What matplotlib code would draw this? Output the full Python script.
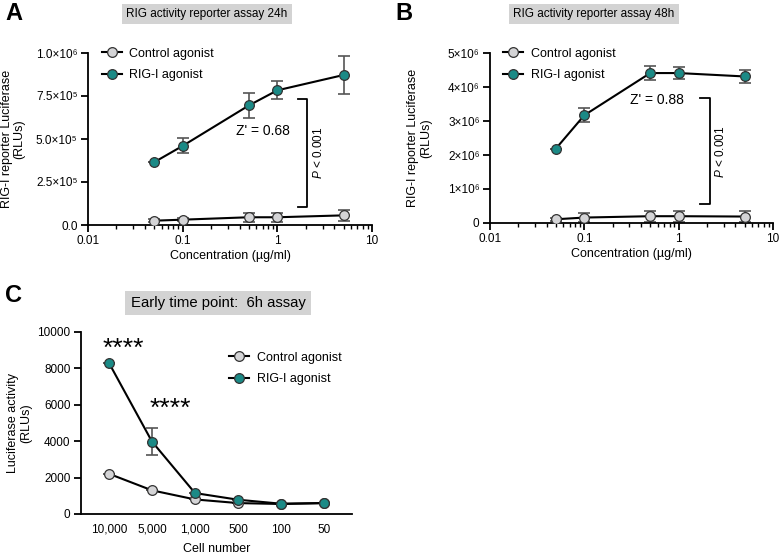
import matplotlib
matplotlib.use("Agg")
import matplotlib.pyplot as plt
import numpy as np

plt.rcParams['font.family'] = ['Liberation Sans', 'DejaVu Sans']
plt.rcParams['mathtext.fontset'] = 'custom'
plt.rcParams['mathtext.rm'] = 'Liberation Sans'
plt.rcParams['mathtext.it'] = 'Liberation Sans:italic'
plt.rcParams['axes.linewidth'] = 1.3

# ---------------- data ----------------
conc = [0.05, 0.1, 0.5, 1, 5]

a_ctrl = [2.5e4, 3.1e4, 4.5e4, 4.5e4, 5.6e4]
a_ctrl_err = [0.8e4, 0.9e4, 2.7e4, 2.7e4, 3.1e4]
a_rig = [3.65e5, 4.6e5, 6.95e5, 7.83e5, 8.72e5]
a_rig_err = [0.0, 4.3e4, 7.2e4, 5.3e4, 1.08e5]
a_yticks = [0, 2.5e5, 5.0e5, 7.5e5, 1.0e6]
a_yticklabels = ["0.0", "2.5×10⁵", "5.0×10⁵", "7.5×10⁵", "1.0×10⁶"]

b_ctrl = [1.1e5, 1.6e5, 2.0e5, 2.0e5, 1.9e5]
b_ctrl_err = [0.4e5, 1.3e5, 1.6e5, 1.6e5, 1.6e5]
b_rig = [2.19e6, 3.17e6, 4.41e6, 4.41e6, 4.31e6]
b_rig_err = [0.0, 0.21e6, 0.2e6, 0.17e6, 0.2e6]
b_yticks = [0, 1e6, 2e6, 3e6, 4e6, 5e6]
b_yticklabels = ["0", "1×10⁶", "2×10⁶", "3×10⁶", "4×10⁶", "5×10⁶"]

x_ticks = [0.01, 0.1, 1, 10]
x_ticklabels = ["0.01", "0.1", "1", "10"]

cells = ["10,000", "5,000", "1,000", "500", "100", "50"]
c_ctrl = [2210, 1300, 800, 600, 550, 600]
c_ctrl_err = [0, 0, 0, 0, 0, 0]
c_rig = [8300, 3980, 1150, 785, 565, 600]
c_rig_err = [0, 720, 0, 0, 0, 0]
c_yticks = [0, 2000, 4000, 6000, 8000, 10000]

TEAL = "#1b8a86"
LGRAY = "#d4d4d6"
ERRC = "#555555"
TICK_FS = 8.5
LAB_FS = 9
LEG_FS = 9

W, H = 782, 554
fig = plt.figure(figsize=(W / 100, H / 100), dpi=100)


def px_axes(l, t, r, b):
    return fig.add_axes([l / W, 1 - b / H, (r - l) / W, (b - t) / H])


def style(ax):
    for s in ("top", "right"):
        ax.spines[s].set_visible(False)
    ax.tick_params(axis="both", which="major", length=5, width=1.3, labelsize=TICK_FS, direction="out", pad=2.5)
    ax.tick_params(axis="both", which="minor", length=3, width=1.0)


def plot_series(ax, x, y, err, face, label):
    ax.errorbar(x, y, yerr=err, fmt="none", ecolor=ERRC, elinewidth=1.2, capsize=4, capthick=1.2, zorder=2)
    ax.plot(x, y, "-", color="black", lw=1.5, marker="o", ms=7, mfc=face, mec="#333333", mew=0.9,
            label=label, zorder=3)


def title_box(x, y, text, size):
    fig.text(x / W, 1 - y / H, text, ha="center", va="center", fontsize=size,
             bbox=dict(boxstyle="square,pad=0.35", fc="#d3d3d3", ec="none"))


def legend(ax, anchor):
    ax.legend(loc="upper left", bbox_to_anchor=anchor, frameon=False, fontsize=LEG_FS,
              handlelength=1.6, handletextpad=0.6, labelspacing=0.75, borderaxespad=0)


# ---------------- Panel A ----------------
axA = px_axes(88, 53, 372, 225)
plot_series(axA, conc, a_ctrl, a_ctrl_err, LGRAY, "Control agonist")
plot_series(axA, conc, a_rig, a_rig_err, TEAL, "RIG-I agonist")
axA.set_xscale("log")
axA.set_xlim(0.01, 10)
axA.set_ylim(0, 1.0e6)
axA.set_xticks(x_ticks)
axA.set_xticklabels(x_ticklabels)
axA.set_yticks(a_yticks)
axA.set_yticklabels(a_yticklabels)
style(axA)
axA.set_xlabel("Concentration (µg/ml)", fontsize=LAB_FS, labelpad=2)
axA.set_ylabel("RIG-I reporter Luciferase\n(RLUs)", fontsize=LAB_FS, linespacing=1.1)
axA.yaxis.set_label_coords(-0.22, 0.5)
axA.plot([1.65, 2.06, 2.06, 1.65], [0.734e6, 0.734e6, 0.107e6, 0.107e6], color="black", lw=1.3)
axA.text(2.75, 0.42e6, "$\\mathit{P}$ < 0.001", rotation=90, ha="center", va="center", fontsize=8.5)
axA.text(0.71, 0.544e6, "Z' = 0.68", ha="center", va="center", fontsize=10)
legend(axA, (0.03, 1.06))
title_box(207, 14, "RIG activity reporter assay 24h", 8.5)
fig.text(5 / W, 1 - 14 / H, "A", fontsize=17, fontweight="bold", ha="left", va="center")

# ---------------- Panel B ----------------
axB = px_axes(490, 53, 773, 223)
plot_series(axB, conc, b_ctrl, b_ctrl_err, LGRAY, "Control agonist")
plot_series(axB, conc, b_rig, b_rig_err, TEAL, "RIG-I agonist")
axB.set_xscale("log")
axB.set_xlim(0.01, 10)
axB.set_ylim(0, 5e6)
axB.set_xticks(x_ticks)
axB.set_xticklabels(x_ticklabels)
axB.set_yticks(b_yticks)
axB.set_yticklabels(b_yticklabels)
style(axB)
axB.set_xlabel("Concentration (µg/ml)", fontsize=LAB_FS, labelpad=2)
axB.set_ylabel("RIG-I reporter Luciferase\n(RLUs)", fontsize=LAB_FS, linespacing=1.1)
axB.yaxis.set_label_coords(-0.205, 0.5)
axB.plot([1.68, 2.15, 2.15, 1.68], [3.68e6, 3.68e6, 0.56e6, 0.56e6], color="black", lw=1.3)
axB.text(2.75, 2.1e6, "$\\mathit{P}$ < 0.001", rotation=90, ha="center", va="center", fontsize=8.5)
axB.text(0.59, 3.61e6, "Z' = 0.88", ha="center", va="center", fontsize=10)
legend(axB, (0.03, 1.06))
title_box(594, 14, "RIG activity reporter assay 48h", 8.5)
fig.text(395 / W, 1 - 14 / H, "B", fontsize=17, fontweight="bold", ha="left", va="center")

# ---------------- Panel C ----------------
axC = px_axes(81, 332, 352, 514)
xc = np.arange(len(cells))
plot_series(axC, xc, c_ctrl, c_ctrl_err, LGRAY, "Control agonist")
plot_series(axC, xc, c_rig, c_rig_err, TEAL, "RIG-I agonist")
axC.set_xlim(-0.65, len(cells) - 1 + 0.65)
axC.set_ylim(0, 10000)
axC.set_xticks(xc)
axC.set_xticklabels(cells)
axC.set_yticks(c_yticks)
style(axC)
axC.tick_params(axis="x", length=0, pad=7)
axC.set_xlabel("Cell number", fontsize=LAB_FS, labelpad=5)
axC.set_ylabel("Luciferase activity\n(RLUs)", fontsize=LAB_FS, linespacing=1.1)
axC.yaxis.set_label_coords(-0.181, 0.5)
axC.text(0.33, 8700, "****", ha="center", va="baseline", fontsize=19)
axC.text(1.42, 5400, "****", ha="center", va="baseline", fontsize=19)
legend(axC, (0.528, 0.92))
title_box(218, 303, "Early time point:  6h assay", 10.7)
fig.text(5 / W, 1 - 295 / H, "C", fontsize=17, fontweight="bold", ha="left", va="center")

fig.savefig("out.png", dpi=100)
